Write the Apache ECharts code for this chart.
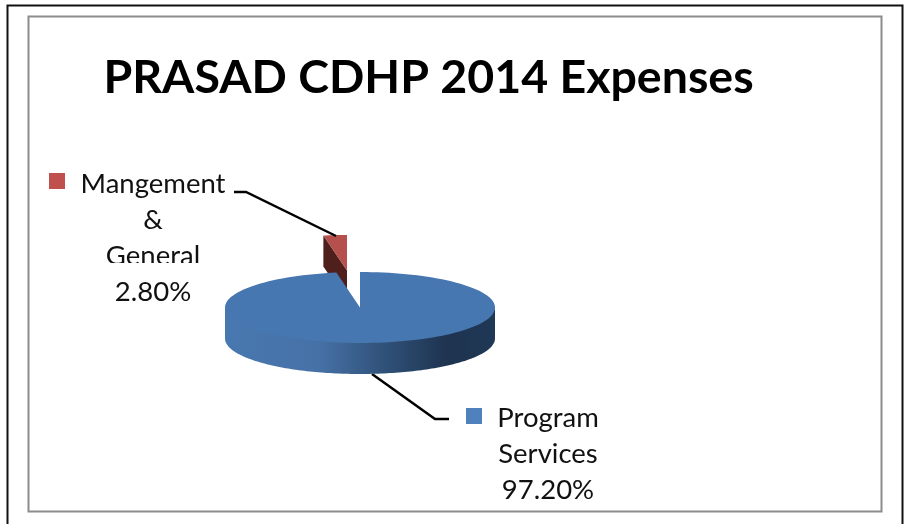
<!DOCTYPE html>
<html><head><meta charset="utf-8">
<style>html,body{margin:0;padding:0;background:#fff}#c{width:904px;height:524px}</style>
<script src="https://cdn.jsdelivr.net/npm/echarts@6/dist/echarts.min.js"></script>
</head><body><div id="c"></div>
<script>
const categories = ['Program Services', 'Mangement & General'];
const values = [97.2, 2.8];
const labelLines = [['Program', 'Services'], ['Mangement', '&', 'General']];
const titleText = 'PRASAD CDHP 2014 Expenses';

const FONT = 'Lato, Carlito, "Open Sans", sans-serif';
const total = values.reduce((a, b) => a + b, 0);
const PIE = { cx: 360, cy: 307.5, rx: 135, ry: 35.5, depth: 31 };
const EXPLODE = [{ x: 0, y: 0 }, { x: -13, y: -37 }];
const LAB = [
  { cx: 548, y0: 418.5, step: 36, sq: [466, 408], lead: [[372, 374], [435, 419], [449, 419]] },
  { cx: 153, y0: 184, step: 36, sq: [49, 173], lead: [[234, 192], [246, 192], [336, 236]] }
];
const COL = [
  { top: '#4777B0', sq: '#4F81BD' },
  { top: '#B5504D', side: '#4F1F1C', sq: '#C0504D' }
];

function pt(a, dx, dy) {
  return [PIE.cx + dx + PIE.rx * Math.sin(a), PIE.cy + dy - PIE.ry * Math.cos(a)];
}
function arc(a0, a1, dx, dy, extra) {
  const out = [], n = 140;
  for (let i = 0; i <= n; i++) {
    const p = pt(a0 + (a1 - a0) * i / n, dx, dy);
    out.push([p[0], p[1] + (extra || 0)]);
  }
  return out;
}
function renderItem(params, api) {
  const i = params.dataIndex;
  const v = api.value(1);
  let start = 0;
  for (let k = 0; k < i; k++) start += values[k];
  const a0 = start / total * Math.PI * 2;
  const a1 = (start + v) / total * Math.PI * 2;
  const ex = EXPLODE[i];
  const apex = [PIE.cx + ex.x, PIE.cy + ex.y];
  const kids = [];
  if (i === 0) {
    const lo = Math.max(a0, Math.PI / 2), hi = Math.min(a1, Math.PI * 1.5);
    kids.push({
      type: 'polygon', z2: 20,
      shape: { points: arc(lo, hi, ex.x, ex.y, -2).concat(arc(lo, hi, ex.x, ex.y, PIE.depth).reverse()) },
      style: { fill: new echarts.graphic.LinearGradient(0, 0, 1, 0, [
        { offset: 0, color: '#4878B0' }, { offset: 0.35, color: '#4671A6' },
        { offset: 0.6, color: '#2F5077' }, { offset: 0.82, color: '#1E3450' },
        { offset: 1, color: '#1F3855' }]) }
    });
  } else {
    const c = pt(a0, ex.x, ex.y);
    kids.push({
      type: 'polygon', z2: 10,
      shape: { points: [c, apex, [apex[0], apex[1] + PIE.depth], [c[0], c[1] + PIE.depth]] },
      style: { fill: COL[i].side }
    });
  }
  kids.push({
    type: 'polygon', z2: i === 0 ? 30 : 11,
    shape: { points: [apex].concat(arc(a0, a1, ex.x, ex.y, 0)) },
    style: { fill: COL[i].top }
  });
  const L = LAB[i];
  kids.push({
    type: 'polyline', z2: i === 0 ? 5 : 40,
    shape: { points: L.lead },
    style: { stroke: '#000', lineWidth: 2.5, fill: null }
  });
  kids.push({ type: 'rect', z2: 40, shape: { x: L.sq[0], y: L.sq[1], width: 16, height: 16 },
    style: { fill: COL[i].sq } });
  const lines = labelLines[i].concat([v.toFixed(2) + '%']);
  lines.forEach((t, k) => {
    kids.push({
      type: 'text', z2: 41,
      style: { x: L.cx, y: L.y0 + k * L.step, text: t, fill: '#111', font: '27.5px ' + FONT,
        align: 'center', verticalAlign: 'middle' }
    });
  });
  if (i === 1) {
    kids.push({ type: 'rect', z2: 42, shape: { x: 90, y: 263, width: 125, height: 13 }, style: { fill: '#fff' } });
  }
  return { type: 'group', children: kids };
}
const chart = echarts.init(document.getElementById('c'), null, { renderer: 'canvas' });
chart.setOption({
  animation: false,
  backgroundColor: '#fff',
  title: {
    text: titleText, left: 423.5, top: 73, textAlign: 'center', textVerticalAlign: 'middle',
    textStyle: { fontFamily: FONT, fontWeight: 'bold', fontSize: 46.5, color: '#000' }
  },
  graphic: [
    { type: 'polyline', silent: true, shape: { points: [[7.5, 524], [7.5, 5.5], [902.5, 5.5], [902.5, 524]] },
      style: { stroke: '#111', lineWidth: 2, fill: null } },
    { type: 'rect', silent: true, shape: { x: 28.5, y: 16.5, width: 853, height: 495 },
      style: { stroke: '#8C8C8C', lineWidth: 2, fill: null } }
  ],
  series: [{
    type: 'custom', coordinateSystem: 'none', renderItem, silent: true,
    data: categories.map((c, i) => [c, values[i]])
  }]
});
</script></body></html>
